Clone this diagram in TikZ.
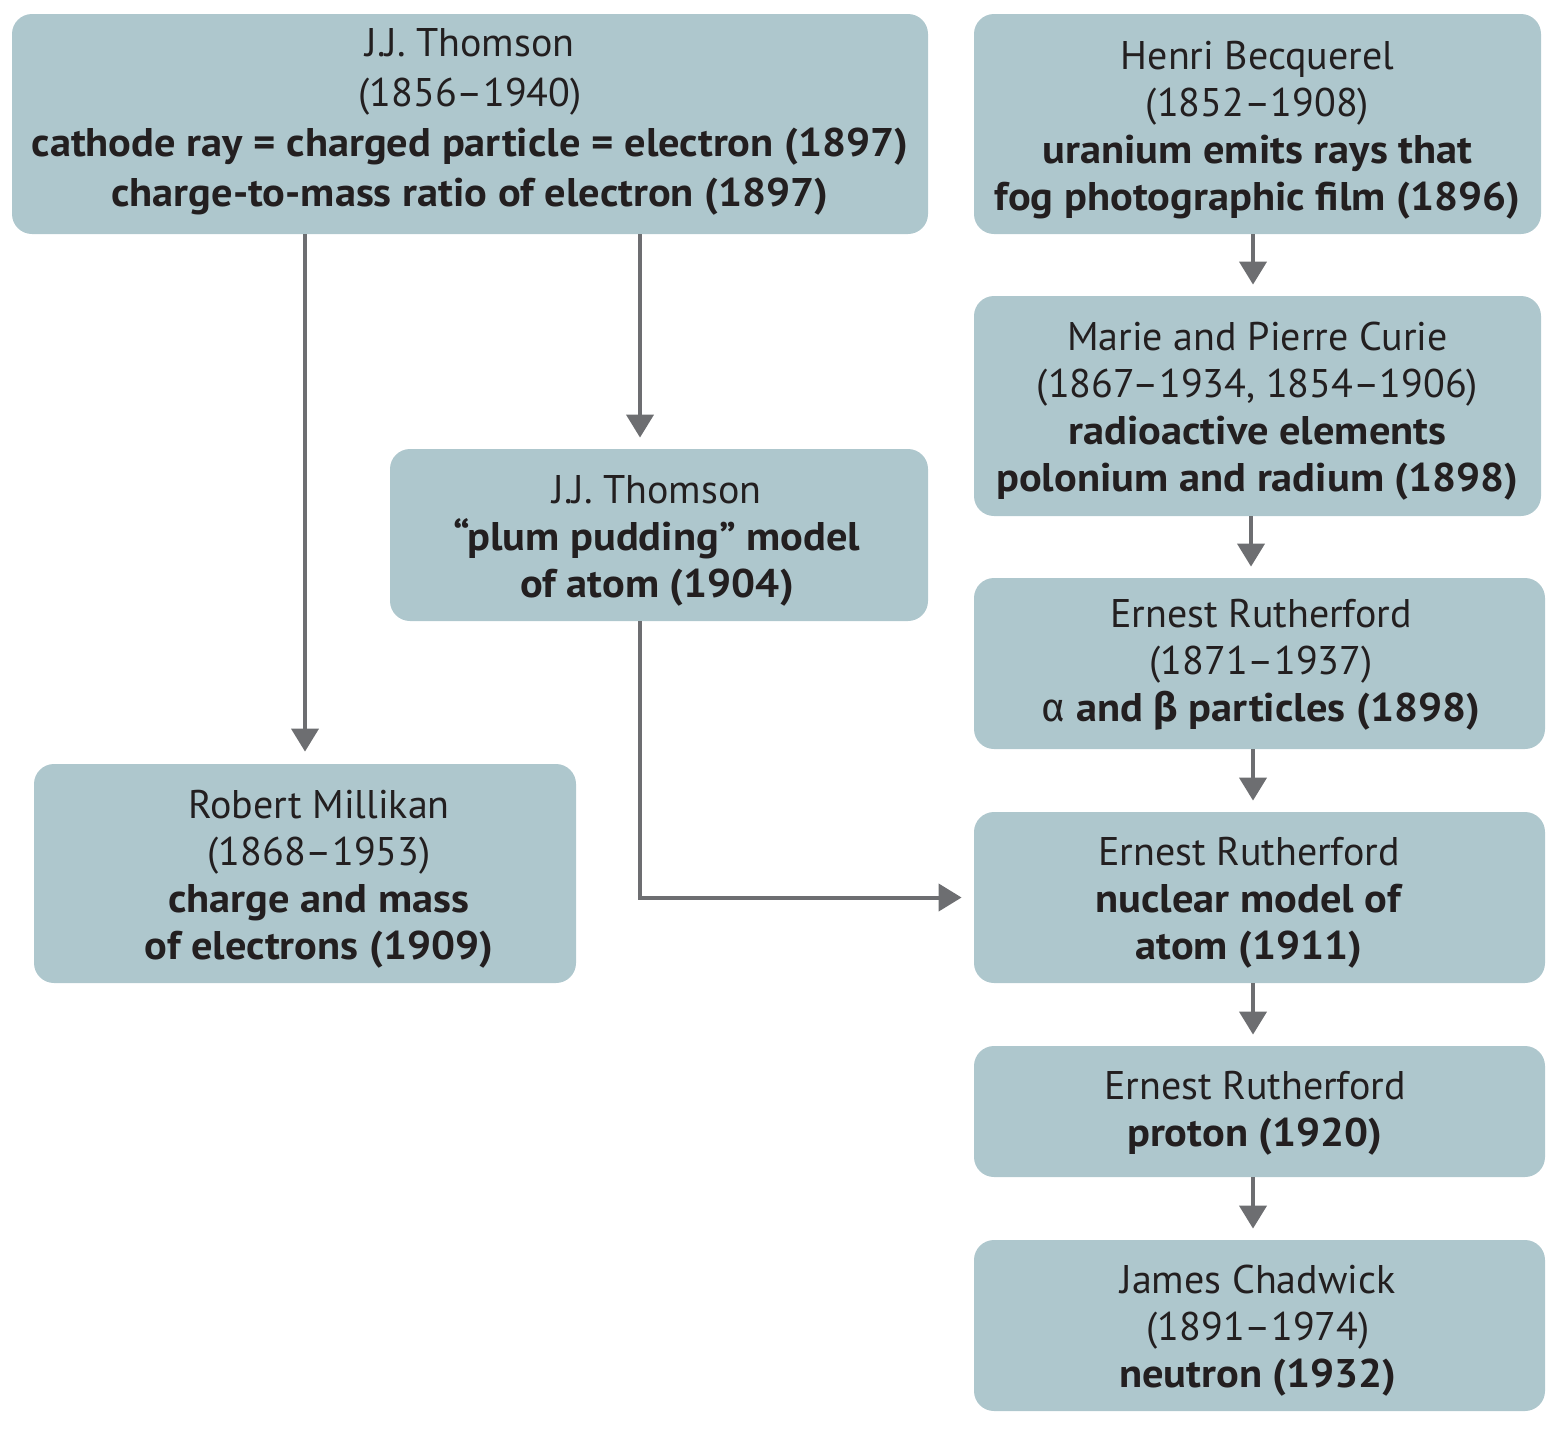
\documentclass[tikz,border=0pt]{standalone}
\usepackage{fontspec}
\setmainfont{PT Sans}[BoldFeatures={FakeStretch=1.06}]
\newfontfamily\grk{Fira Sans}
\usetikzlibrary{arrows.meta}
\definecolor{boxfill}{HTML}{AEC7CD}
\definecolor{arrowgray}{HTML}{6D6E71}
\definecolor{txt}{HTML}{231F20}
\begin{document}
\begin{tikzpicture}[x=0.5pt,y=-0.5pt,
  card/.style={fill=boxfill, rounded corners=10pt, inner sep=0pt},
  cardtext/.style={inner sep=0pt, align=center, text=txt, font=\fontsize{20}{23.5}\selectfont},
  link/.style={draw=arrowgray, line width=2pt, -{Triangle[length=11.5pt,width=13.5pt]}}]
\useasboundingbox (0,0) rectangle (1562,1430);

% boxes
\node[card, minimum width=458pt, minimum height=110pt] (thom) at (470,124) {};
\node[card, minimum width=283.5pt, minimum height=110pt] (becq) at (1257.5,124) {};
\node[card, minimum width=283.5pt, minimum height=110pt] (curie) at (1257.5,406) {};
\node[card, minimum width=285.5pt, minimum height=85.5pt] (alpha) at (1259.5,663.5) {};
\node[card, minimum width=285.5pt, minimum height=85.5pt] (nuc) at (1259.5,897.5) {};
\node[card, minimum width=285.5pt, minimum height=65.5pt] (proton) at (1259.5,1111.5) {};
\node[card, minimum width=285.5pt, minimum height=85.5pt] (chad) at (1259.5,1325.5) {};
\node[card, minimum width=269pt, minimum height=86pt] (plum) at (659,535) {};
\node[card, minimum width=271pt, minimum height=109.5pt] (mill) at (305,873.5) {};

% texts
\node[cardtext, font=\fontsize{20}{25}\selectfont] (thomt) at (470,122)
  {J.J. Thomson\\(1856–1940)\\\textbf{cathode ray = charged particle = electron (1897)}\\\textbf{charge-to-mass ratio of electron (1897)}};
\node[cardtext] (becqt) at (1257.5,130)
  {Henri Becquerel\\(1852–1908)\\\textbf{uranium emits rays that}\\\textbf{fog photographic film (1896)}};
\node[cardtext] (curiet) at (1257.5,411.5)
  {Marie and Pierre Curie\\(1867–1934, 1854–1906)\\\textbf{radioactive elements}\\\textbf{polonium and radium (1898)}};
\node[cardtext] (alphat) at (1261,665)
  {Ernest Rutherford\\(1871–1937)\\{\grk α} \textbf{and {\grk\bfseries β} particles (1898)}};
\node[cardtext] (nuct) at (1249,902.5)
  {Ernest Rutherford\\\textbf{nuclear model of}\\\textbf{atom (1911)}};
\node[cardtext] (protont) at (1255,1113.5)
  {Ernest Rutherford\\\textbf{proton (1920)}};
\node[cardtext] (chadt) at (1258,1331)
  {James Chadwick\\(1891–1974)\\\textbf{neutron (1932)}};
\node[cardtext] (plumt) at (657,541)
  {J.J. Thomson\\\textbf{“plum pudding” model}\\\textbf{of atom (1904)}};
\node[cardtext] (millt) at (319,879.5)
  {Robert Millikan\\(1868–1953)\\\textbf{charge and mass}\\\textbf{of electrons (1909)}};

% connectors
\draw[link] (mill.north |- thom.south) -- ([yshift=6pt]mill.north);
\draw[link] ([xshift=-9.5pt]plum.north |- thom.south) -- ([xshift=-9.5pt,yshift=5.5pt]plum.north);
\draw[link] ([xshift=-9.5pt]plum.south) |- ([xshift=-6pt]nuc.west);
\draw[link] ([xshift=-2.25pt]becq.south) -- ([xshift=-2.25pt,yshift=5.5pt]becq.south |- curie.north);
\draw[link] ([xshift=-3.25pt]curie.south) -- ([xshift=-3.25pt,yshift=5.5pt]curie.south |- alpha.north);
\draw[link] ([xshift=-3.25pt]alpha.south) -- ([xshift=-3.25pt,yshift=5.5pt]alpha.south |- nuc.north);
\draw[link] ([xshift=-3.25pt]nuc.south) -- ([xshift=-3.25pt,yshift=5.5pt]nuc.south |- proton.north);
\draw[link] ([xshift=-3.25pt]proton.south) -- ([xshift=-3.25pt,yshift=5.5pt]proton.south |- chad.north);
\end{tikzpicture}
\end{document}
